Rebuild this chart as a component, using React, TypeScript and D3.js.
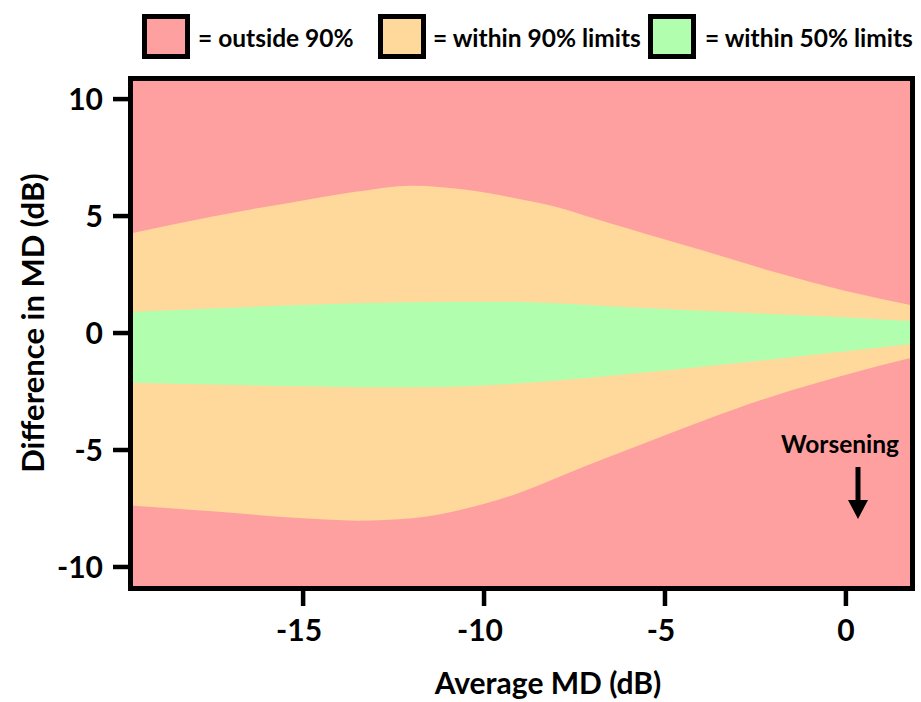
import React from "react";
import * as d3 from "d3";

// Average MD (dB) sample positions
const xValues = [-19.77, -17.5, -15, -13.5, -12, -10.5, -9, -8, -7, -6, -5, -4, -2, 0, 1.84];
// Difference in MD (dB) boundaries
const upper90 = [4.25, 4.98, 5.67, 6.05, 6.3, 6.12, 5.72, 5.39, 4.92, 4.46, 4.0, 3.55, 2.62, 1.8, 1.18];
const upper50 = [0.9, 1.05, 1.2, 1.27, 1.32, 1.34, 1.33, 1.27, 1.19, 1.1, 1.03, 0.95, 0.8, 0.66, 0.5];
const lower50 = [-2.12, -2.2, -2.28, -2.32, -2.32, -2.27, -2.15, -2.03, -1.9, -1.75, -1.6, -1.44, -1.12, -0.78, -0.46];
const lower90 = [-7.37, -7.62, -7.92, -8.02, -7.92, -7.5, -6.82, -6.2, -5.57, -4.97, -4.37, -3.78, -2.69, -1.78, -1.05];

const xTicks = [-15, -10, -5, 0];
const yTicks = [-10, -5, 0, 5, 10];
const legendLabels = ["= outside 90%", "= within 90% limits", "= within 50% limits"];
const legendColors = ["#FFA0A0", "#FFD99B", "#B1FFAE"];

const FONT = "Lato, 'Open Sans', sans-serif";

export default function App() {
  const left = 130.5, right = 912.5, top = 78.5, bottom = 588.5;
  const x = d3.scaleLinear().domain([-19.77, 1.84]).range([left, right]);
  const y = d3.scaleLinear().domain([-10.92, 10.88]).range([bottom, top]);

  const rows90 = xValues.map((v, i) => ({ x: v, lo: lower90[i], hi: upper90[i] }));
  const rows50 = xValues.map((v, i) => ({ x: v, lo: lower50[i], hi: upper50[i] }));
  const area = d3
    .area<{ x: number; lo: number; hi: number }>()
    .x((d) => x(d.x))
    .y0((d) => y(d.lo))
    .y1((d) => y(d.hi))
    .curve(d3.curveMonotoneX);

  const legendBoxX = [142, 378, 648];
  const legendTextX = [198, 433, 705];

  return (
    <svg
      width={921}
      height={702}
      style={{ position: "absolute", left: 0, top: 0, background: "#fff" }}
      fontFamily={FONT}
    >
      <defs>
        <clipPath id="plotClip">
          <rect x={left} y={top} width={right - left} height={bottom - top} />
        </clipPath>
      </defs>

      {/* Legend */}
      {legendLabels.map((lab, i) => (
        <g key={lab}>
          <rect
            x={legendBoxX[i] + 2.5}
            y={16.5}
            width={43}
            height={40}
            fill={legendColors[i]}
            stroke="#000"
            strokeWidth={5}
          />
          <text x={legendTextX[i]} y={47} fontSize={24.5} fontWeight={700} fill="#000">
            {lab}
          </text>
        </g>
      ))}

      {/* Plot regions */}
      <g clipPath="url(#plotClip)">
        <rect x={left} y={top} width={right - left} height={bottom - top} fill={legendColors[0]} />
        <path d={area(rows90) || ""} fill={legendColors[1]} />
        <path d={area(rows50) || ""} fill={legendColors[2]} />
      </g>

      {/* Frame */}
      <rect
        x={left}
        y={top}
        width={right - left}
        height={bottom - top}
        fill="none"
        stroke="#000"
        strokeWidth={5}
      />

      {/* Y axis ticks */}
      {yTicks.map((t) => (
        <g key={"y" + t}>
          <line x1={113} x2={left} y1={y(t)} y2={y(t)} stroke="#000" strokeWidth={4.5} />
          <text
            x={103}
            y={y(t)}
            dy="0.36em"
            textAnchor="end"
            fontSize={30}
            fontWeight={700}
            fill="#000"
          >
            {t}
          </text>
        </g>
      ))}

      {/* X axis ticks */}
      {xTicks.map((t) => (
        <g key={"x" + t}>
          <line x1={x(t)} x2={x(t)} y1={bottom} y2={606} stroke="#000" strokeWidth={4.5} />
          <text
            x={x(t) - (t < 0 ? 4 : 0)}
            y={641}
            textAnchor="middle"
            fontSize={30}
            fontWeight={700}
            fill="#000"
          >
            {t}
          </text>
        </g>
      ))}

      {/* Axis titles */}
      <text x={548} y={694} textAnchor="middle" fontSize={30} fontWeight={700} fill="#000">
        Average MD (dB)
      </text>
      <text
        transform="translate(44,323) rotate(-90)"
        textAnchor="middle"
        fontSize={31}
        fontWeight={700}
        fill="#000"
      >
        Difference in MD (dB)
      </text>

      {/* Worsening annotation */}
      <text x={840} y={453} textAnchor="middle" fontSize={24.5} fontWeight={700} fill="#000">
        Worsening
      </text>
      <line x1={858} x2={858} y1={467} y2={502} stroke="#000" strokeWidth={5} />
      <path d="M848,500 L868,500 L858,519 Z" fill="#000" />
    </svg>
  );
}
